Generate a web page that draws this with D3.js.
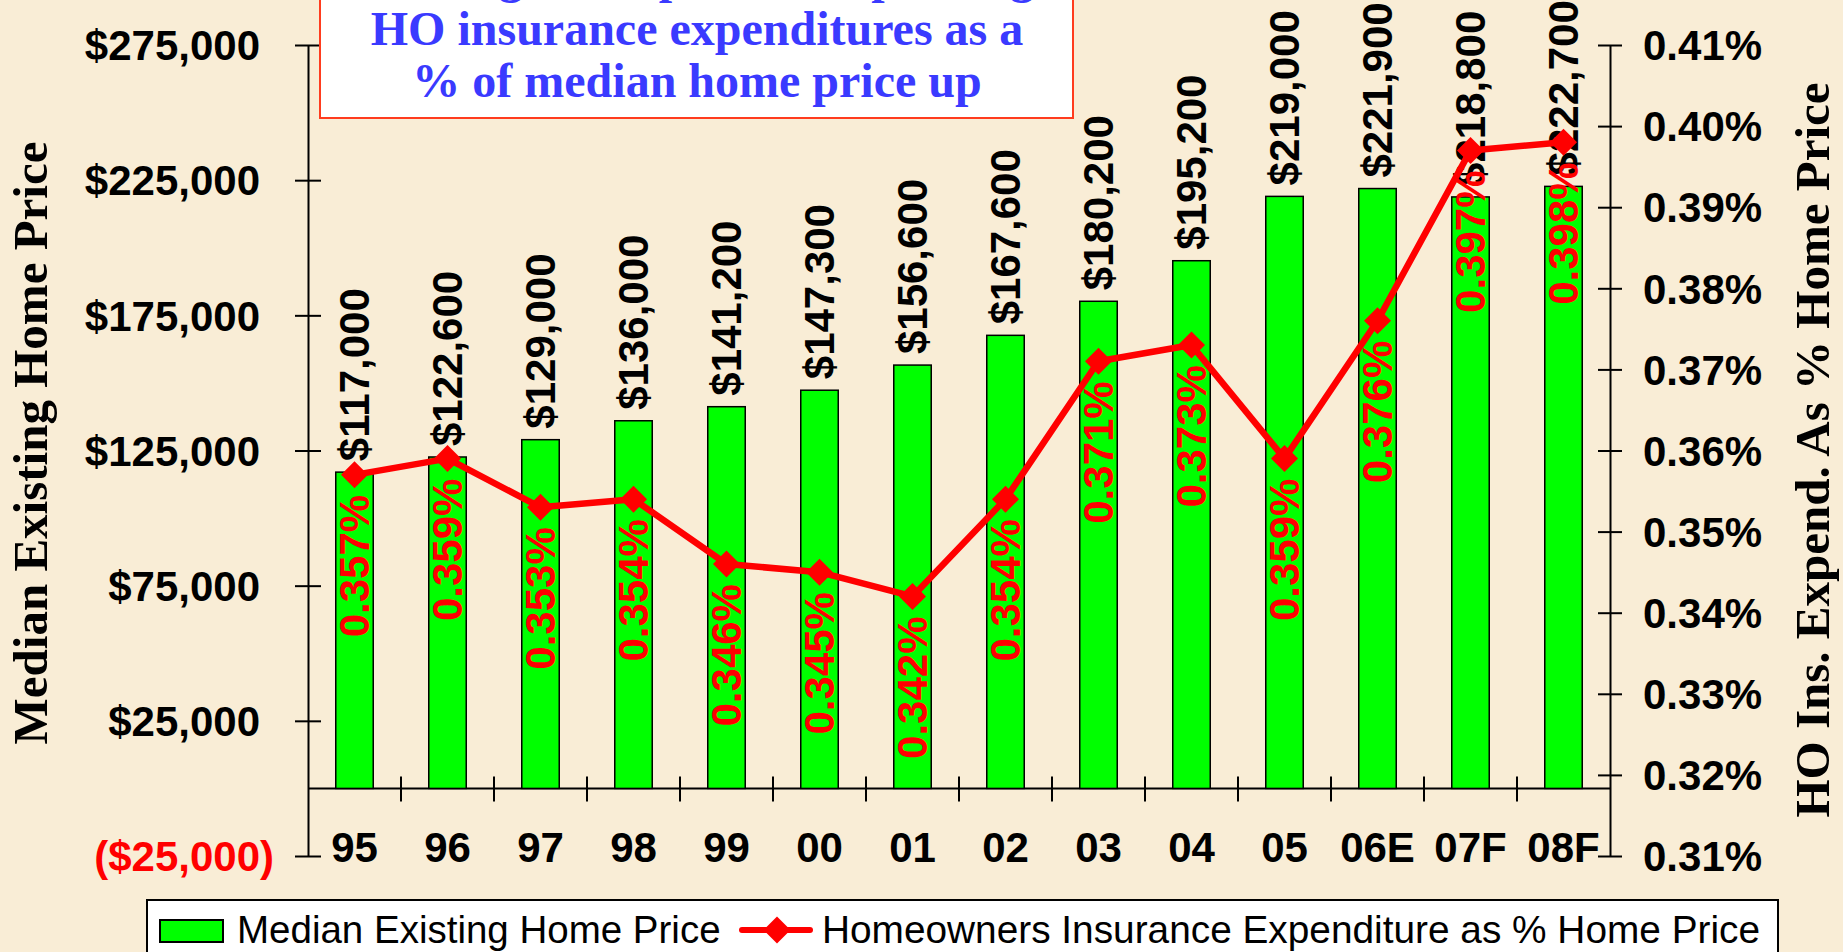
<!DOCTYPE html>
<html>
<head>
<meta charset="utf-8">
<script src="https://cdn.jsdelivr.net/npm/d3@7"></script>
<style>
  html, body { margin: 0; padding: 0; background: #f9edd6; }
  svg { display: block; }
</style>
</head>
<body>
<div id="chart"></div>
<script>
var svgWidth = 1843;
var svgHeight = 952;

// Data
var years = ["95", "96", "97", "98", "99", "00", "01", "02", "03", "04", "05", "06E", "07F", "08F"];
var homePrice = [117000, 122600, 129000, 136000, 141200, 147300, 156600, 167600, 180200, 195200, 219000, 221900, 218800, 222700];
var insPct = [0.357, 0.359, 0.353, 0.354, 0.346, 0.345, 0.342, 0.354, 0.371, 0.373, 0.359, 0.376, 0.397, 0.398];
var leftTicks = [-25000, 25000, 75000, 125000, 175000, 225000, 275000];
var rightTicks = [0.31, 0.32, 0.33, 0.34, 0.35, 0.36, 0.37, 0.38, 0.39, 0.40, 0.41];
var titleLines = ["Slowing home prices are pushing", "HO insurance expenditures as a", "% of median home price up"];

var sans = "'Liberation Sans', Arial, sans-serif";
var serif = "'Liberation Serif', 'Times New Roman', serif";

var plot = { left: 308, right: 1610, top: 45, bottom: 856 };

var svg = d3.select("#chart")
  .append("svg")
  .attr("width", svgWidth)
  .attr("height", svgHeight);

svg.append("rect")
  .attr("width", svgWidth)
  .attr("height", svgHeight)
  .attr("fill", "#f9edd6");

// Scales
var x = d3.scaleBand()
  .domain(years)
  .range([plot.left, plot.right]);

var yLeft = d3.scaleLinear()
  .domain([-25000, 275000])
  .range([plot.bottom, plot.top]);

var yRight = d3.scaleLinear()
  .domain([0.31, 0.41])
  .range([plot.bottom, plot.top]);

var barW = x.bandwidth() * 0.403;
var cx = d => x(d) + x.bandwidth() / 2;

// Left axis
var leftAxis = d3.axisLeft(yLeft)
  .tickValues(leftTicks)
  .tickSizeInner(13)
  .tickSizeOuter(0)
  .tickFormat(d => d < 0 ? "($" + d3.format(",")(-d) + ")" : "$" + d3.format(",")(d));

var gl = svg.append("g")
  .attr("transform", `translate(${plot.left}, 0)`)
  .call(leftAxis);
gl.select(".domain").attr("stroke", "#000").attr("stroke-width", 2);
gl.selectAll(".tick line").attr("x2", 13).attr("x1", -13).attr("stroke", "#000").attr("stroke-width", 2);
gl.selectAll(".tick text")
  .attr("x", d => d < 0 ? -34 : -48)
  .attr("dy", "0.35em")
  .attr("font-family", sans)
  .attr("font-weight", "bold")
  .attr("font-size", "42px")
  .attr("fill", d => d < 0 ? "#ff0000" : "#000");

// Right axis
var rightAxis = d3.axisRight(yRight)
  .tickValues(rightTicks)
  .tickSizeInner(12)
  .tickSizeOuter(0)
  .tickFormat(d => d3.format(".2f")(d) + "%");

var gr = svg.append("g")
  .attr("transform", `translate(${plot.right}, 0)`)
  .call(rightAxis);
gr.select(".domain").attr("stroke", "#000").attr("stroke-width", 2);
gr.selectAll(".tick line").attr("x1", -12).attr("x2", 12).attr("stroke", "#000").attr("stroke-width", 2);
gr.selectAll(".tick text")
  .attr("x", 33)
  .attr("dy", "0.35em")
  .attr("font-family", sans)
  .attr("font-weight", "bold")
  .attr("font-size", "42px")
  .attr("fill", "#000");

// Category axis along zero
var zeroY = yLeft(0);
svg.append("line")
  .attr("x1", plot.left).attr("x2", plot.right)
  .attr("y1", zeroY).attr("y2", zeroY)
  .attr("stroke", "#000").attr("stroke-width", 2);

svg.append("g")
  .selectAll("line")
  .data(years.slice(1))
  .enter()
  .append("line")
  .attr("x1", d => x(d)).attr("x2", d => x(d))
  .attr("y1", zeroY - 12).attr("y2", zeroY + 13)
  .attr("stroke", "#000").attr("stroke-width", 2);

svg.append("g")
  .selectAll("text")
  .data(years)
  .enter()
  .append("text")
  .attr("x", d => cx(d))
  .attr("y", 862)
  .attr("text-anchor", "middle")
  .attr("font-family", sans)
  .attr("font-weight", "bold")
  .attr("font-size", "42px")
  .text(d => d);

// Bars
svg.append("g")
  .selectAll("rect")
  .data(years)
  .enter()
  .append("rect")
  .attr("x", d => cx(d) - barW / 2)
  .attr("width", barW)
  .attr("y", (d, i) => yLeft(homePrice[i]))
  .attr("height", (d, i) => zeroY - yLeft(homePrice[i]))
  .attr("fill", "#00ff00")
  .attr("stroke", "#000")
  .attr("stroke-width", 1.5);

// Bar value labels
svg.append("g")
  .selectAll("text")
  .data(years)
  .enter()
  .append("text")
  .attr("transform", (d, i) => `translate(${cx(d)}, ${yLeft(homePrice[i]) - 11}) rotate(-90)`)
  .attr("dy", "0.35em")
  .attr("text-anchor", "start")
  .attr("font-family", sans)
  .attr("font-weight", "bold")
  .attr("font-size", "42px")
  .attr("fill", "#000")
  .text((d, i) => "$" + d3.format(",")(homePrice[i]));

// Line series
var line = d3.line()
  .x((d, i) => cx(years[i]))
  .y(d => yRight(d));

svg.append("path")
  .datum(insPct)
  .attr("d", line)
  .attr("fill", "none")
  .attr("stroke", "#ff0000")
  .attr("stroke-width", 6.5)
  .attr("stroke-linejoin", "round");

var diamond = "M0,-13.5L13.5,0L0,13.5L-13.5,0Z";
svg.append("g")
  .selectAll("path")
  .data(insPct)
  .enter()
  .append("path")
  .attr("transform", (d, i) => `translate(${cx(years[i])}, ${yRight(d)})`)
  .attr("d", diamond)
  .attr("fill", "#ff0000");

// Percentage labels
svg.append("g")
  .selectAll("text")
  .data(insPct)
  .enter()
  .append("text")
  .attr("transform", (d, i) => `translate(${cx(years[i])}, ${yRight(d) + 20}) rotate(-90)`)
  .attr("dy", "0.35em")
  .attr("text-anchor", "end")
  .attr("font-family", sans)
  .attr("font-weight", "bold")
  .attr("font-size", "42px")
  .attr("fill", "#ff0000")
  .text(d => d3.format(".3f")(d) + "%");

// Axis titles
svg.append("text")
  .attr("transform", "translate(47, 443) rotate(-90)")
  .attr("text-anchor", "middle")
  .attr("font-family", serif)
  .attr("font-weight", "bold")
  .attr("font-size", "49px")
  .text("Median Existing Home Price");

svg.append("text")
  .attr("transform", "translate(1829, 450) rotate(-90)")
  .attr("text-anchor", "middle")
  .attr("font-family", serif)
  .attr("font-weight", "bold")
  .attr("font-size", "49px")
  .text("HO Ins. Expend. As % Home Price");

// Title box (top line runs off the page, as in the source slide)
svg.append("rect")
  .attr("x", 320).attr("y", -10)
  .attr("width", 753).attr("height", 128)
  .attr("fill", "#fff")
  .attr("stroke", "#ff3c1e")
  .attr("stroke-width", 2);

svg.append("g")
  .selectAll("text")
  .data(titleLines)
  .enter()
  .append("text")
  .attr("x", 697)
  .attr("y", (d, i) => -7 + i * 52)
  .attr("text-anchor", "middle")
  .attr("font-family", serif)
  .attr("font-weight", "bold")
  .attr("font-size", "48px")
  .attr("fill", "#3a3aff")
  .text(d => d);

// Legend
var legend = svg.append("g");
legend.append("rect")
  .attr("x", 147).attr("y", 900)
  .attr("width", 1631).attr("height", 80)
  .attr("fill", "#fff")
  .attr("stroke", "#000")
  .attr("stroke-width", 2);
legend.append("rect")
  .attr("x", 160).attr("y", 920)
  .attr("width", 63).attr("height", 22)
  .attr("fill", "#00ff00")
  .attr("stroke", "#000")
  .attr("stroke-width", 2);
legend.append("text")
  .attr("x", 237).attr("y", 943)
  .attr("font-family", sans)
  .attr("font-size", "38.5px")
  .text("Median Existing Home Price");
legend.append("line")
  .attr("x1", 742).attr("x2", 810)
  .attr("y1", 930).attr("y2", 930)
  .attr("stroke", "#ff0000")
  .attr("stroke-width", 6)
  .attr("stroke-linecap", "round");
legend.append("path")
  .attr("transform", "translate(777, 930)")
  .attr("d", diamond)
  .attr("fill", "#ff0000");
legend.append("text")
  .attr("x", 822).attr("y", 943)
  .attr("font-family", sans)
  .attr("font-size", "38.8px")
  .text("Homeowners Insurance Expenditure as % Home Price");
</script>
</body>
</html>
